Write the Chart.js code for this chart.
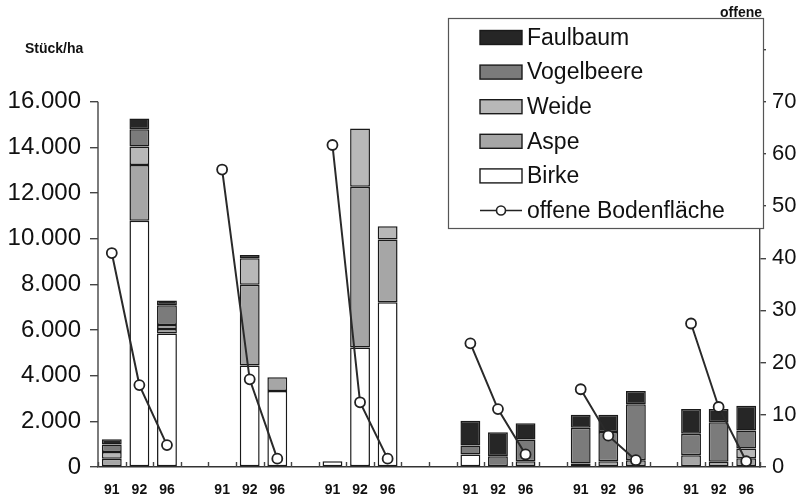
<!DOCTYPE html>
<html>
<head>
<meta charset="utf-8">
<script src="https://cdn.jsdelivr.net/npm/chart.js@4.4.0/dist/chart.umd.min.js"></script>
<style>
  html, body { margin: 0; padding: 0; background: #fff; }
</style>
</head>
<body>
<canvas id="chart" width="805" height="501"></canvas>
<script>
// years per site, empty strings are the gaps between sites
const years = ["91", "92", "96", "", "91", "92", "96", "", "91", "92", "96", "", "",
               "91", "92", "96", "", "91", "92", "96", "", "91", "92", "96"];

// Stück/ha per tree species (null = not present)
const birke      = [null, 10780, 5850, null, null, 4440, 3330, null, 250, 5230, 7220, null, null,
                    550, null, null, null, null, null, null, null, null, null, null];
const aspe       = [360, 2450, 190, null, null, 3545, 605, null, null, 7040, 2740, null, null,
                    null, null, 250, null, 150, 250, 300, null, 520, 230, 380];
const weide      = [300, 810, 175, null, null, 1155, null, null, null, 2550, 580, null, null,
                    null, null, null, null, null, null, null, null, null, null, 430];
const vogelbeere = [330, 750, 865, null, null, null, null, null, null, null, null, null, null,
                    390, 475, 950, null, 1565, 1280, 2450, null, 940, 1730, 790];
const faulbaum   = [220, 475, 215, null, null, 140, null, null, null, null, null, null, null,
                    1090, 1050, 720, null, 575, 760, 580, null, 1080, 580, 1080];

// offene Bodenfläche in %
const offen = [41, 15.7, 4.2, null, 57, 16.8, 1.6, null, 61.7, 12.4, 1.6, null, null,
               23.7, 11.1, 2.4, null, 14.9, 6, 1.3, null, 27.5, 11.5, 1.1];

const leftTicks = [0, 2000, 4000, 6000, 8000, 10000, 12000, 14000, 16000];
const rightTicks = [0, 10, 20, 30, 40, 50, 60, 70, 80];

const FONT = "'Liberation Sans', Arial, sans-serif";
const INK = "#1a1a1a";

const species = [
  { label: "Birke", data: birke, color: "#ffffff" },
  { label: "Aspe", data: aspe, color: "#a6a6a6" },
  { label: "Weide", data: weide, color: "#b8b8b8" },
  { label: "Vogelbeere", data: vogelbeere, color: "#7b7b7b" },
  { label: "Faulbaum", data: faulbaum, color: "#262626" },
];

function fmt(v) {
  return String(v).replace(/\B(?=(\d{3})+(?!\d))/g, ".");
}

const datasets = species.map(function (s) {
  return {
    type: "bar",
    label: s.label,
    data: s.data,
    backgroundColor: s.color,
    borderColor: INK,
    borderWidth: 1.5,
    borderSkipped: false,
    barPercentage: 0.72,
    categoryPercentage: 1,
    stack: "arten",
    yAxisID: "y",
    order: 1,
  };
});

datasets.push({
  type: "line",
  label: "offene Bodenfläche",
  data: offen,
  yAxisID: "y1",
  borderColor: "#2a2a2a",
  borderWidth: 2,
  pointRadius: 5,
  pointBackgroundColor: "#ffffff",
  pointBorderColor: "#222",
  pointBorderWidth: 1.8,
  spanGaps: false,
  tension: 0,
  order: 0,
});

// axis line only up to 16.000, slot ticks on the x axis, legend box and captions
const extras = {
  id: "extras",
  afterDatasetsDraw(chart) {
    const c = chart.ctx;
    const y = chart.scales.y;
    const area = chart.chartArea;

    c.save();
    c.strokeStyle = "#444";
    c.lineWidth = 1.4;
    c.beginPath();
    c.moveTo(area.left, y.getPixelForValue(0));
    c.lineTo(area.left, y.getPixelForValue(16000));
    c.stroke();

    const slot = (area.right - area.left) / years.length;
    c.beginPath();
    for (let i = 0; i <= years.length; i++) {
      const px = Math.round(area.left + i * slot) + 0.5;
      c.moveTo(px, area.bottom);
      c.lineTo(px, area.bottom - 5);
    }
    c.stroke();

    // legend
    const bx = 448, by = 18, bw = area.right + 3 - bx, bh = 210;
    c.fillStyle = "#fff";
    c.fillRect(bx, by, bw, bh);
    c.strokeStyle = "#555";
    c.lineWidth = 1.2;
    c.strokeRect(bx + 0.5, by + 0.5, bw, bh);

    const items = species.slice().reverse();
    c.font = "23px " + FONT;
    c.textBaseline = "middle";
    items.forEach(function (s, i) {
      const cy = 37.5 + i * 34.6;
      c.fillStyle = s.color;
      c.fillRect(480, cy - 7, 42, 14);
      c.strokeStyle = INK;
      c.lineWidth = 1.4;
      c.strokeRect(480, cy - 7, 42, 14);
      c.fillStyle = "#111";
      c.fillText(s.label, 527, cy + 1);
    });
    const ly = 37.5 + 5 * 34.6;
    c.strokeStyle = "#222";
    c.lineWidth = 1.6;
    c.beginPath();
    c.moveTo(480, ly);
    c.lineTo(522, ly);
    c.stroke();
    c.beginPath();
    c.arc(501, ly, 4.5, 0, Math.PI * 2);
    c.fillStyle = "#fff";
    c.fill();
    c.stroke();
    c.fillStyle = "#111";
    c.fillText("offene Bodenfläche", 527, ly + 1);

    c.font = "bold 14px " + FONT;
    c.textAlign = "left";
    c.fillText("Stück/ha", 25, 49);
    c.textAlign = "right";
    c.textBaseline = "alphabetic";
    c.fillText("offene", 762, 17);
    c.restore();
  },
};

new Chart(document.getElementById("chart"), {
  data: { labels: years, datasets: datasets },
  options: {
    responsive: false,
    devicePixelRatio: 1,
    animation: false,
    layout: { padding: { top: 18, left: 0, right: 0, bottom: 0 } },
    plugins: { legend: { display: false }, tooltip: { enabled: false } },
    scales: {
      x: {
        type: "category",
        offset: true,
        stacked: true,
        grid: { display: false, drawTicks: false },
        border: { display: true, color: "#333", width: 1.5 },
        ticks: {
          autoSkip: false,
          maxRotation: 0,
          padding: 15,
          color: "#111",
          font: { family: FONT, size: 14, weight: "bold" },
        },
        afterFit(scale) { scale.height = 34; },
      },
      y: {
        position: "left",
        stacked: true,
        min: 0,
        max: 16000 * 85 / 70,
        afterBuildTicks(scale) {
          scale.ticks = leftTicks.map(function (v) { return { value: v }; });
        },
        grid: { drawOnChartArea: false, drawTicks: true, tickLength: 8, color: "#444", lineWidth: 1.4 },
        border: { display: false },
        ticks: {
          padding: 9,
          color: "#111",
          font: { family: FONT, size: 24 },
          callback: function (v) { return fmt(v); },
        },
        afterFit(scale) { scale.width = 98; },
      },
      y1: {
        position: "right",
        min: 0,
        max: 85,
        afterBuildTicks(scale) {
          scale.ticks = rightTicks.map(function (v) { return { value: v }; });
        },
        grid: { drawOnChartArea: false, drawTicks: true, tickLength: 6, color: "#444", lineWidth: 1.4 },
        border: { display: true, color: "#444", width: 1.4 },
        ticks: {
          padding: 6,
          color: "#111",
          font: { family: FONT, size: 22 },
          callback: function (v) { return v === 80 ? "" : v; },
        },
        afterFit(scale) { scale.width = 45; },
      },
    },
  },
  plugins: [extras],
});
</script>
</body>
</html>
